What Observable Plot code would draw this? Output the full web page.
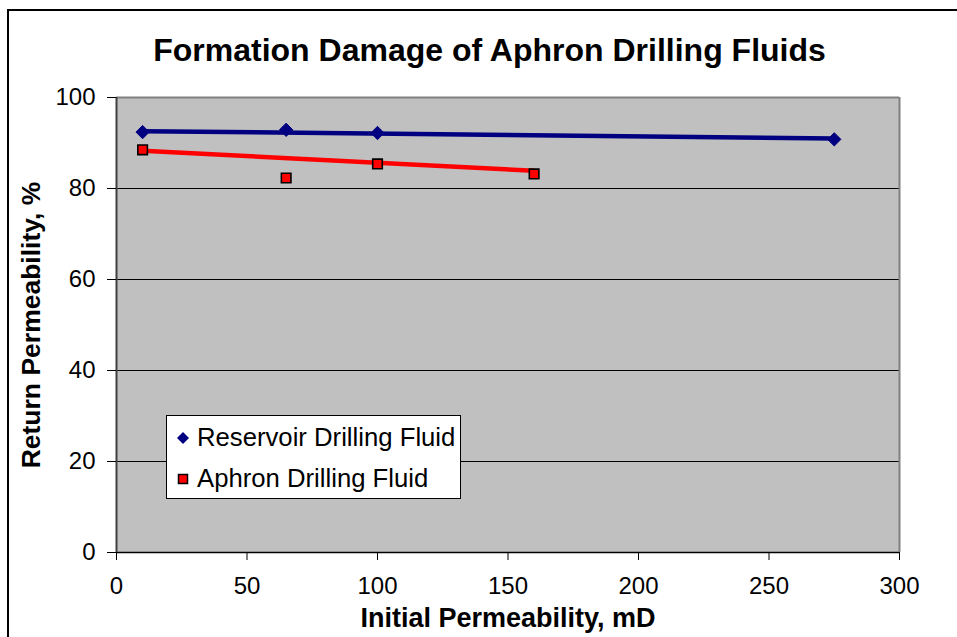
<!DOCTYPE html>
<html>
<head>
<meta charset="utf-8">
<script src="https://cdn.jsdelivr.net/npm/d3@7"></script>
<script src="https://cdn.jsdelivr.net/npm/@observablehq/plot@0.6"></script>
<style>
  html, body { margin: 0; padding: 0; background: #fff; }
  #wrap { position: relative; width: 957px; height: 637px; overflow: hidden; font-family: "Liberation Sans", Arial, sans-serif; }
  #frame { position: absolute; left: 7px; top: 9px; width: 980px; height: 660px; border-left: 2px solid #000; border-top: 2px solid #000; box-sizing: border-box; }
  #title { position: absolute; left: 0; top: 0; width: 957px; height: 80px; text-align: center; font-weight: bold; font-size: 32px; line-height: 30px; padding-top: 35px; box-sizing: border-box; padding-left: 22px; }
  #chart { position: absolute; left: 0; top: 80px; }
  #legend { position: absolute; left: 166px; top: 415px; width: 295px; height: 84px; border: 1px solid #000; background: #fff; box-sizing: border-box; font-size: 25.7px; }
  .item { position: absolute; left: 0; display: flex; align-items: center; white-space: nowrap; }
  .item svg { margin-left: 9px; margin-right: 7px; }
</style>
</head>
<body>
<div id="wrap">
  <div id="frame"></div>
  <div id="title"></div>
  <div id="chart"></div>
  <div id="legend"></div>
</div>
<script>
// ---- data ----
const chartTitle = "Formation Damage of Aphron Drilling Fluids";
const xLabel = "Initial Permeability, mD";
const yLabel = "Return Permeability, %";
const seriesNames = ["Reservoir Drilling Fluid", "Aphron Drilling Fluid"];

const reservoirX = [10, 65, 100, 275];
const reservoirY = [92.4, 92.9, 92.2, 90.8];
const aphronX = [10, 65, 100, 160];
const aphronY = [88.5, 82.3, 85.4, 83.2];

// trend lines
const reservoirTrendX = [10, 275];
const reservoirTrendY = [92.6, 91.0];
const aphronTrendX = [10, 160];
const aphronTrendY = [88.3, 83.9];

const xTicks = [0, 50, 100, 150, 200, 250, 300];
const yTicks = [0, 20, 40, 60, 80, 100];

// ---- build tables ----
const reservoir = reservoirX.map((x, i) => ({x, y: reservoirY[i]}));
const aphron = aphronX.map((x, i) => ({x, y: aphronY[i]}));
const reservoirTrend = reservoirTrendX.map((x, i) => ({x, y: reservoirTrendY[i]}));
const aphronTrend = aphronTrendX.map((x, i) => ({x, y: aphronTrendY[i]}));

const BLUE = "#000080", RED = "#FF0000", PLOTBG = "#C0C0C0";

document.getElementById("title").textContent = chartTitle;

const chart = Plot.plot({
  width: 957,
  height: 557,
  marginTop: 17,
  marginLeft: 116,
  marginRight: 58,
  marginBottom: 85,
  style: {fontFamily: "'Liberation Sans', Arial, sans-serif", fontSize: "24px", background: "transparent", color: "#000", overflow: "visible"},
  x: {domain: [0, 300], label: null},
  y: {domain: [0, 100], label: null},
  marks: [
    Plot.frame({fill: PLOTBG, stroke: null}),
    Plot.gridY(yTicks.slice(1, -1), {stroke: "#000", strokeOpacity: 1, strokeWidth: 1}),
    Plot.ruleY([yTicks[yTicks.length - 1]], {stroke: "#808080", strokeWidth: 2}),
    Plot.ruleX([xTicks[xTicks.length - 1]], {stroke: "#808080", strokeWidth: 2}),
    Plot.ruleY([0], {stroke: "#000", strokeWidth: 1.5}),
    Plot.ruleX([0], {stroke: "#404040", strokeWidth: 2}),
    Plot.axisX({ticks: xTicks, tickSize: 8, tickPadding: 16, stroke: "#000", fontSize: 24, label: null}),
    Plot.axisY({ticks: yTicks, tickSize: 9, tickPadding: 12, stroke: "#000", fontSize: 24, label: null}),
    Plot.text([xLabel], {frameAnchor: "bottom", dy: 66, lineAnchor: "middle", fontWeight: "bold", fontSize: 27, fill: "#000"}),
    Plot.text([yLabel], {frameAnchor: "left", dx: -85, rotate: -90, textAnchor: "middle", lineAnchor: "middle", fontWeight: "bold", fontSize: 26.5, fill: "#000"}),
    Plot.line(reservoirTrend, {x: "x", y: "y", stroke: BLUE, strokeWidth: 4.5}),
    Plot.line(aphronTrend, {x: "x", y: "y", stroke: RED, strokeWidth: 4.5}),
    Plot.dot(reservoir, {x: "x", y: "y", symbol: "diamond2", r: 6, fill: BLUE, stroke: BLUE, strokeWidth: 1}),
    Plot.dot(aphron, {x: "x", y: "y", symbol: "square", r: 5.4, fill: RED, stroke: "#000", strokeWidth: 1.6})
  ]
});
document.getElementById("chart").appendChild(chart);

// legend
const legend = document.getElementById("legend");
const markers = [
  `<svg width="14" height="14" viewBox="-7 -7 14 14"><path d="M0,-6L6,0L0,6L-6,0Z" fill="${BLUE}"/></svg>`,
  `<svg width="14" height="14" viewBox="-7 -7 14 14"><rect x="-4.5" y="-4.5" width="9" height="9" fill="${RED}" stroke="#000" stroke-width="1.5"/></svg>`
];
const tops = [7, 48];
seriesNames.forEach((name, i) => {
  const d = document.createElement("div");
  d.className = "item";
  d.style.top = tops[i] + "px";
  d.innerHTML = markers[i] + `<span>${name}</span>`;
  legend.appendChild(d);
});
</script>
</body>
</html>
